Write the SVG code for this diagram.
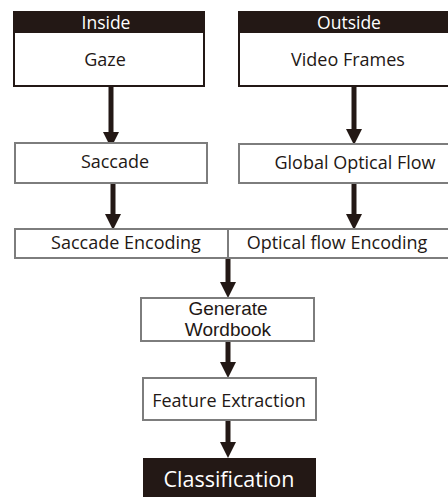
<svg xmlns="http://www.w3.org/2000/svg" width="448" height="497" viewBox="0 0 448 497">
  <style>
    .lbl { font-family: "Open Sans", "Liberation Sans", sans-serif; font-size: 18px; fill: #231815; text-anchor: middle; }
    .two { font-family: "Liberation Sans", "Open Sans", sans-serif; font-size: 19px; fill: #231815; text-anchor: middle; }
    .hdr { font-family: "Open Sans", "Liberation Sans", sans-serif; font-size: 17.5px; fill: #ffffff; text-anchor: middle; }
    .big { font-family: "Open Sans", "Liberation Sans", sans-serif; font-size: 21.5px; fill: #ffffff; text-anchor: middle; }
    .src { fill: #ffffff; stroke: #231815; stroke-width: 2; }
    .bar { fill: #231815; }
    .step { fill: #ffffff; stroke: #7d7d7d; stroke-width: 2; }
    .wire { stroke: #231815; stroke-width: 5; fill: none; }
    .tip { fill: #231815; }
  </style>

  <rect width="448" height="497" fill="#ffffff"/>

  <g id="connectors">
    <line class="wire" x1="111" y1="86" x2="111" y2="133"/>
    <path class="tip" d="M103,132 L119,132 L111,148 Z"/>
    <line class="wire" x1="113" y1="183" x2="113" y2="216"/>
    <path class="tip" d="M105,214 L121,214 L113,230 Z"/>
    <line class="wire" x1="354" y1="86" x2="354" y2="131"/>
    <path class="tip" d="M346,129 L362,129 L354,145 Z"/>
    <line class="wire" x1="354" y1="183" x2="354" y2="216"/>
    <path class="tip" d="M346,214 L362,214 L354,230 Z"/>
    <line class="wire" x1="228" y1="258" x2="228" y2="284"/>
    <path class="tip" d="M220,282 L236,282 L228,298 Z"/>
    <line class="wire" x1="228" y1="341" x2="228" y2="364"/>
    <path class="tip" d="M220,362 L236,362 L228,378 Z"/>
    <line class="wire" x1="228" y1="420" x2="228" y2="444"/>
    <path class="tip" d="M220,442 L236,442 L228,458 Z"/>
  </g>

  <g id="inside">
    <rect class="src" x="14" y="12" width="190" height="74"/>
    <rect class="bar" x="13" y="11" width="192" height="22"/>
    <text class="hdr" x="106" y="29">Inside</text>
    <text class="lbl" x="105" y="66">Gaze</text>
  </g>

  <g id="outside">
    <rect class="src" x="239" y="12" width="215" height="74"/>
    <rect class="bar" x="238" y="11" width="217" height="22"/>
    <text class="hdr" x="349" y="29">Outside</text>
    <text class="lbl" x="348" y="66">Video Frames</text>
  </g>

  <g id="saccade">
    <rect class="step" x="15" y="143" width="192" height="40"/>
    <text class="lbl" x="115" y="168">Saccade</text>
  </g>

  <g id="global-optical-flow">
    <rect class="step" x="239" y="144" width="215" height="39"/>
    <text class="lbl" x="355" y="169">Global Optical Flow</text>
  </g>

  <g id="saccade-encoding">
    <rect class="step" x="15" y="229" width="213" height="29"/>
    <text class="lbl" x="126" y="249">Saccade Encoding</text>
  </g>

  <g id="optical-flow-encoding">
    <rect class="step" x="228" y="229" width="226" height="29"/>
    <text class="lbl" x="337" y="249">Optical flow Encoding</text>
  </g>

  <g id="generate-wordbook">
    <rect class="step" x="141" y="298" width="173" height="43"/>
    <text class="two"><tspan x="228" y="314.5">Generate</tspan><tspan x="228" y="335.8">Wordbook</tspan></text>
  </g>

  <g id="feature-extraction">
    <rect class="step" x="143" y="378" width="173" height="42"/>
    <text class="lbl" x="229" y="407">Feature Extraction</text>
  </g>

  <g id="classification">
    <rect class="bar" x="143" y="458" width="173" height="40"/>
    <text class="big" x="229" y="487">Classification</text>
  </g>
</svg>
